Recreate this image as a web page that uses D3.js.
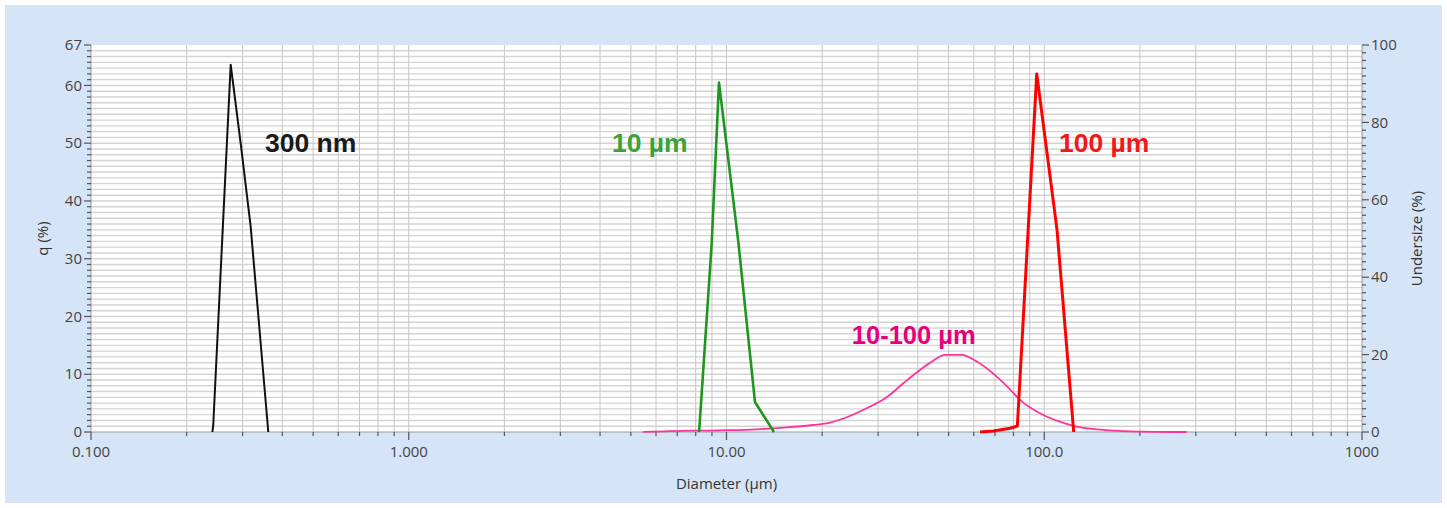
<!DOCTYPE html>
<html>
<head>
<meta charset="utf-8">
<script src="https://cdn.jsdelivr.net/npm/d3@7"></script>
<style>
  body { margin: 0; background: #ffffff; }
  svg { display: block; }
  .ax { font-family: "Open Sans", "Noto Sans", sans-serif; }
  .lbl { font-family: "Liberation Sans", Arial, sans-serif; font-weight: bold; }
</style>
</head>
<body>
<svg></svg>
<script>
// particle size distributions, size in um, q in %
let size300nm = [0.241, 0.2425, 0.2752, 0.2966, 0.318, 0.3614]
let q300nm = [0, 1.2, 63.6, 49.5, 35.6, 0]

let size10um = [8.2, 8.98, 9.47, 10.89, 12.29, 14.11]
let q10um = [0, 32.5, 60.5, 33.0, 5.2, 0]

let size100um = [62.8, 69.1, 78.0, 82.3, 94.7, 109.7, 123.8]
let q100um = [0, 0.17, 0.64, 1.04, 62.0, 35.0, 0]

let sizeMix = [5.47, 6.33, 9.42, 12.45, 15.47, 18.72, 21.17, 23.89, 27.62, 31.93, 36.01, 40.64, 44.75, 48.72, 54.98, 61.29, 70.86, 78.02, 83.9, 99.3, 112.1, 126.5, 146.3, 186.2, 280.7]
let qMix = [0, 0.12, 0.29, 0.47, 0.81, 1.21, 1.61, 2.55, 4.11, 6.02, 8.44, 10.75, 12.36, 13.35, 13.35, 12.19, 9.59, 7.4, 5.55, 2.95, 1.79, 0.92, 0.47, 0.12, 0]

let xTicks = [0.1, 1, 10, 100, 1000]
let xTickLabels = ['0.100', '1.000', '10.00', '100.0', '1000']
let yTicks = [0, 10, 20, 30, 40, 50, 60, 67]
let y2Ticks = [0, 20, 40, 60, 80, 100]

let labels = [
  {text: '300 nm', x: 0.353, y: 48.4, color: '#1a1a1a', size: 26.5},
  {text: '10 µm', x: 4.36, y: 48.4, color: '#3aa33a', size: 26.5},
  {text: '100 µm', x: 111.3, y: 48.4, color: '#f01818', size: 26.5},
  {text: '10-100 µm', x: 24.8, y: 15.3, color: '#e6007e', size: 25.5}
]

let W = 1447, H = 508
let margin = {top: 45, right: 85, bottom: 76, left: 91}
let width = W - margin.left - margin.right
let height = H - margin.top - margin.bottom

let svg = d3.select('svg').attr('width', W).attr('height', H)

// outer panel
svg.append('rect')
  .attr('x', 5).attr('y', 5)
  .attr('width', W - 10).attr('height', H - 10)
  .attr('fill', '#d6e4f8')

let g = svg.append('g').attr('transform', `translate(${margin.left},${margin.top})`)

let xScale = d3.scaleLog().domain([0.1, 1000]).range([0, width])
let yScale = d3.scaleLinear().domain([0, 67]).range([height, 0])
let y2Scale = d3.scaleLinear().domain([0, 100]).range([height, 0])

g.append('rect').attr('width', width).attr('height', height).attr('fill', '#ffffff')

// horizontal grid every 1 %
g.append('g').selectAll('line')
  .data(d3.range(1, 67))
  .enter().append('line')
  .attr('x1', 0).attr('x2', width)
  .attr('y1', d => yScale(d)).attr('y2', d => yScale(d))
  .attr('stroke', '#d4d4d4').attr('stroke-width', 1.4)

// vertical grid at log minor positions
let minorX = []
for (let dec = 0.1; dec < 1000; dec *= 10) {
  for (let k = 1; k <= 9; k++) minorX.push(+(dec * k).toPrecision(3))
}
minorX.push(1000)
g.append('g').selectAll('line')
  .data(minorX.filter(d => d > 0.1 && d < 1000))
  .enter().append('line')
  .attr('x1', d => xScale(d)).attr('x2', d => xScale(d))
  .attr('y1', 0).attr('y2', height)
  .attr('stroke', '#c6c6c6').attr('stroke-width', 1)

// bottom axis
let xAxis = g.append('g').attr('class', 'ax').attr('transform', `translate(0,${height})`)
xAxis.append('line').attr('x1', 0).attr('x2', width).attr('stroke', '#9a9a9a')
xAxis.selectAll('.minor')
  .data(minorX)
  .enter().append('line')
  .attr('x1', d => xScale(d)).attr('x2', d => xScale(d))
  .attr('y1', 0).attr('y2', d => xTicks.includes(d) ? 8 : 4)
  .attr('stroke', '#555').attr('stroke-width', 1.2)
xAxis.selectAll('text')
  .data(xTicks)
  .enter().append('text')
  .attr('x', d => xScale(d)).attr('y', 25)
  .attr('text-anchor', 'middle')
  .attr('font-size', 15).attr('fill', '#444')
  .text((d, i) => xTickLabels[i])

// left axis
let yAxis = g.append('g').attr('class', 'ax')
yAxis.append('line').attr('y1', 0).attr('y2', height).attr('stroke', '#9a9a9a')
yAxis.selectAll('.m')
  .data(d3.range(0, 68))
  .enter().append('line')
  .attr('x1', d => yTicks.includes(d) ? -7 : -4).attr('x2', 0)
  .attr('y1', d => yScale(d)).attr('y2', d => yScale(d))
  .attr('stroke', '#555').attr('stroke-width', 1.2)
yAxis.selectAll('text')
  .data(yTicks)
  .enter().append('text')
  .attr('x', -9).attr('y', d => yScale(d))
  .attr('dy', '0.35em')
  .attr('text-anchor', 'end')
  .attr('font-size', 15).attr('fill', '#444')
  .text(d => d)

// right axis
let y2Axis = g.append('g').attr('class', 'ax').attr('transform', `translate(${width},0)`)
y2Axis.append('line').attr('y1', 0).attr('y2', height).attr('stroke', '#9a9a9a')
y2Axis.selectAll('.m')
  .data(d3.range(0, 101, 2))
  .enter().append('line')
  .attr('x1', 0).attr('x2', d => y2Ticks.includes(d) ? 7 : 4)
  .attr('y1', d => y2Scale(d)).attr('y2', d => y2Scale(d))
  .attr('stroke', '#555').attr('stroke-width', 1.2)
y2Axis.selectAll('text')
  .data(y2Ticks)
  .enter().append('text')
  .attr('x', 9).attr('y', d => y2Scale(d))
  .attr('dy', '0.35em')
  .attr('font-size', 15).attr('fill', '#444')
  .text(d => d)

// axis titles
g.append('text').attr('class', 'ax')
  .attr('x', width / 2).attr('y', height + 57)
  .attr('text-anchor', 'middle')
  .attr('font-size', 15).attr('fill', '#333')
  .text('Diameter (µm)')
g.append('text').attr('class', 'ax')
  .attr('transform', `translate(${-43},${height / 2}) rotate(-90)`)
  .attr('text-anchor', 'middle')
  .attr('font-size', 15).attr('fill', '#333')
  .text('q (%)')
g.append('text').attr('class', 'ax')
  .attr('transform', `translate(${width + 60},${height / 2}) rotate(-90)`)
  .attr('text-anchor', 'middle')
  .attr('font-size', 15).attr('fill', '#333')
  .text('Undersize (%)')

// curves
let series = [
  {sizes: sizeMix, q: qMix, color: '#ff3399', w: 1.8, curve: d3.curveMonotoneX},
  {sizes: size300nm, q: q300nm, color: '#111111', w: 2, curve: d3.curveLinear},
  {sizes: size10um, q: q10um, color: '#1e961e', w: 2.6, curve: d3.curveLinear},
  {sizes: size100um, q: q100um, color: '#ff0000', w: 3, curve: d3.curveLinear}
]
series.forEach(s => {
  let line = d3.line()
    .x(d => xScale(d[0]))
    .y(d => yScale(d[1]))
    .curve(s.curve)
  g.append('path')
    .datum(s.sizes.map((d, i) => [d, s.q[i]]))
    .attr('d', line)
    .attr('fill', 'none')
    .attr('stroke', s.color)
    .attr('stroke-width', s.w)
    .attr('stroke-linejoin', 'round')
})

// curve labels
g.selectAll('.lbl')
  .data(labels)
  .enter().append('text')
  .attr('class', 'lbl')
  .attr('x', d => xScale(d.x)).attr('y', d => yScale(d.y))
  .attr('font-size', d => d.size)
  .attr('fill', d => d.color)
  .text(d => d.text)
</script>
</body>
</html>
